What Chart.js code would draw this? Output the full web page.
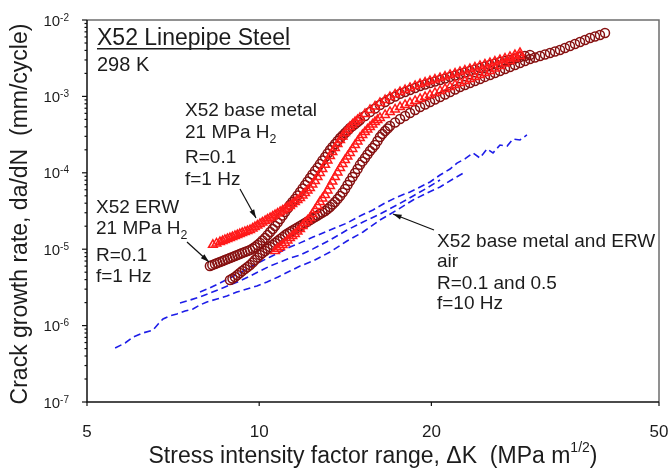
<!DOCTYPE html>
<html>
<head>
<meta charset="utf-8">
<script src="https://cdn.jsdelivr.net/npm/chart.js@4.4.0/dist/chart.umd.min.js"></script>
<style>
html, body { margin: 0; padding: 0; background: #fff; }
</style>
</head>
<body>
<canvas id="myChart" width="670" height="468"></canvas>
<script>
// axis ticks
const xTicks = [5, 10, 20, 50];
const yTicks = [1e-7, 1e-6, 1e-5, 1e-4, 1e-3, 1e-2];

// base metal, 21 MPa H2 (triangles)
const baseK1 = [8.30,8.42,8.54,8.63,8.71,8.80,8.89,8.98,9.07,9.16,9.25,9.34,9.44,9.54,9.64,9.74,9.83,9.93,10.03,10.13,10.24,10.34,10.45,10.56,10.66,10.77,10.88,10.99,11.10,11.21,11.32,11.43,11.55,11.67,11.79,11.91,12.03,12.15,12.27,12.39,12.52,12.65,12.77,12.90,13.04,13.17,13.30,13.43,13.57,13.71,13.85,13.99,14.13,14.27,14.41,14.56,14.71,14.86,15.00,15.31,15.62,15.94,16.26,16.60,16.93,17.28,17.63,17.99,18.35,18.73,19.11,19.50,19.89,20.29,20.71,21.13,21.56,22.00,22.44,22.89,23.36,23.83,24.32,24.81,25.32,25.83,26.36,26.90,27.44,28.00,28.57];
const baseRate1 = [1.14e-5,1.19e-5,1.24e-5,1.28e-5,1.32e-5,1.36e-5,1.40e-5,1.44e-5,1.49e-5,1.53e-5,1.58e-5,1.63e-5,1.68e-5,1.73e-5,1.78e-5,1.87e-5,1.95e-5,2.04e-5,2.14e-5,2.24e-5,2.34e-5,2.45e-5,2.56e-5,2.68e-5,2.80e-5,2.93e-5,3.07e-5,3.21e-5,3.36e-5,3.51e-5,3.68e-5,3.90e-5,4.15e-5,4.41e-5,4.68e-5,5.05e-5,5.44e-5,5.87e-5,6.32e-5,7.03e-5,7.81e-5,8.81e-5,9.94e-5,1.12e-4,1.27e-4,1.45e-4,1.66e-4,1.87e-4,2.11e-4,2.38e-4,2.69e-4,2.99e-4,3.32e-4,3.63e-4,3.98e-4,4.29e-4,4.62e-4,4.91e-4,5.22e-4,5.89e-4,6.64e-4,7.38e-4,8.20e-4,8.97e-4,9.82e-4,1.06e-3,1.14e-3,1.21e-3,1.29e-3,1.37e-3,1.45e-3,1.52e-3,1.59e-3,1.66e-3,1.74e-3,1.82e-3,1.91e-3,1.99e-3,2.09e-3,2.18e-3,2.28e-3,2.39e-3,2.50e-3,2.62e-3,2.73e-3,2.86e-3,2.99e-3,3.13e-3,3.28e-3,3.48e-3,3.70e-3];
const baseK2 = [10.66,10.77,10.88,10.99,11.10,11.21,11.32,11.43,11.55,11.67,11.79,11.91,12.03,12.15,12.27,12.39,12.52,12.65,12.77,12.90,13.04,13.17,13.30,13.43,13.57,13.71,13.85,13.99,14.13,14.27,14.41,14.56,14.71,14.86,15.00,15.15,15.31,15.46,15.62,15.78,15.94,16.10,16.26,16.60,16.93,17.28,17.63,17.99,18.35,18.73,19.11,19.50,19.89,20.29,20.71,21.13,21.56,22.00,22.44,22.89,23.36,23.83,24.32,24.81,25.32,25.83,26.36,26.90,27.44,28.00,28.57];
const baseRate2 = [9.47e-6,1.01e-5,1.07e-5,1.135e-5,1.21e-5,1.30e-5,1.40e-5,1.49e-5,1.58e-5,1.70e-5,1.84e-5,2.01e-5,2.20e-5,2.37e-5,2.56e-5,2.89e-5,3.26e-5,3.68e-5,4.15e-5,4.61e-5,5.12e-5,5.87e-5,6.72e-5,7.69e-5,8.81e-5,1.01e-4,1.16e-4,1.30e-4,1.47e-4,1.63e-4,1.82e-4,2.05e-4,2.31e-4,2.57e-4,2.85e-4,3.13e-4,3.42e-4,3.69e-4,3.98e-4,4.29e-4,4.62e-4,4.91e-4,5.22e-4,5.71e-4,6.25e-4,6.74e-4,7.26e-4,7.72e-4,8.20e-4,8.71e-4,9.25e-4,9.82e-4,1.04e-3,1.11e-3,1.18e-3,1.25e-3,1.33e-3,1.41e-3,1.50e-3,1.59e-3,1.69e-3,1.80e-3,1.91e-3,2.02e-3,2.15e-3,2.32e-3,2.50e-3,2.70e-3,2.91e-3,3.13e-3,3.38e-3];

// ERW, 21 MPa H2 (circles)
const erwK1 = [8.20,8.28,8.37,8.45,8.54,8.63,8.71,8.80,8.89,8.98,9.07,9.16,9.25,9.34,9.44,9.54,9.64,9.74,9.83,9.93,10.03,10.13,10.24,10.34,10.45,10.56,10.66,10.77,10.88,10.99,11.10,11.21,11.32,11.43,11.55,11.67,11.79,11.91,12.03,12.15,12.27,12.39,12.52,12.65,12.77,12.90,13.04,13.17,13.30,13.43,13.57,13.71,13.85,13.99,14.13,14.27,14.41,14.56,14.71,14.86,15.00,15.31,15.62,15.94,16.26,16.60,16.93,17.28,17.63,17.99,18.35,18.73,19.11,19.50,19.89,20.29,20.71,21.13,21.56,22.00,22.44,22.89,23.36,23.83,24.32,24.81,25.32,25.83,26.36,26.90,27.44,28.00,28.57,29.15,29.74];
const erwRate1 = [6.03e-6,6.21e-6,6.40e-6,6.60e-6,6.80e-6,7.01e-6,7.22e-6,7.44e-6,7.67e-6,7.90e-6,8.15e-6,8.39e-6,8.65e-6,8.92e-6,9.19e-6,9.47e-6,9.77e-6,1.02e-5,1.07e-5,1.135e-5,1.21e-5,1.30e-5,1.40e-5,1.53e-5,1.68e-5,1.84e-5,2.01e-5,2.24e-5,2.48e-5,2.76e-5,3.07e-5,3.41e-5,3.79e-5,4.15e-5,4.54e-5,5.05e-5,5.61e-5,6.23e-5,6.92e-5,7.69e-5,8.55e-5,9.50e-5,1.06e-4,1.17e-4,1.30e-4,1.45e-4,1.61e-4,1.79e-4,1.99e-4,2.18e-4,2.38e-4,2.61e-4,2.85e-4,3.08e-4,3.32e-4,3.58e-4,3.86e-4,4.10e-4,4.35e-4,4.62e-4,4.91e-4,5.54e-4,6.25e-4,6.94e-4,7.72e-4,8.45e-4,9.25e-4,9.97e-4,1.08e-3,1.14e-3,1.21e-3,1.29e-3,1.37e-3,1.43e-3,1.50e-3,1.57e-3,1.64e-3,1.71e-3,1.80e-3,1.88e-3,1.96e-3,2.06e-3,2.15e-3,2.25e-3,2.35e-3,2.46e-3,2.58e-3,2.70e-3,2.82e-3,2.91e-3,2.99e-3,3.13e-3,3.28e-3,3.38e-3,3.48e-3];
const erwK2 = [8.89,8.98,9.07,9.16,9.25,9.34,9.44,9.54,9.64,9.74,9.83,9.93,10.03,10.13,10.24,10.34,10.45,10.56,10.66,10.77,10.88,10.99,11.10,11.21,11.32,11.43,11.55,11.67,11.79,11.91,12.03,12.15,12.27,12.39,12.52,12.65,12.77,12.90,13.04,13.17,13.30,13.43,13.57,13.71,13.85,13.99,14.13,14.27,14.41,14.56,14.71,14.86,15.00,15.15,15.31,15.46,15.62,15.78,15.94,16.10,16.26,16.42,16.60,16.77,16.93,17.28,17.63,17.99,18.35,18.73,19.11,19.50,19.89,20.29,20.71,21.13,21.56,22.00,22.44,22.89,23.36,23.83,24.32,24.81,25.32,25.83,26.36,26.90,27.44,28.00,28.57,29.15,29.74,30.35,30.97,31.60,32.24,32.90,33.56,34.24,34.94,35.65,36.38,37.12,37.87,38.64,39.42,40.23];
const erwRate2 = [3.95e-6,4.14e-6,4.33e-6,4.60e-6,4.88e-6,5.18e-6,5.50e-6,5.85e-6,6.21e-6,6.70e-6,7.22e-6,7.79e-6,8.39e-6,8.92e-6,9.47e-6,1.01e-5,1.07e-5,1.135e-5,1.21e-5,1.28e-5,1.36e-5,1.44e-5,1.53e-5,1.605e-5,1.68e-5,1.76e-5,1.84e-5,1.92e-5,2.01e-5,2.10e-5,2.20e-5,2.30e-5,2.41e-5,2.52e-5,2.64e-5,2.76e-5,2.89e-5,3.02e-5,3.16e-5,3.36e-5,3.57e-5,3.85e-5,4.15e-5,4.54e-5,4.97e-5,5.52e-5,6.14e-5,6.92e-5,7.81e-5,8.81e-5,9.94e-5,1.12e-4,1.27e-4,1.41e-4,1.56e-4,1.74e-4,1.93e-4,2.11e-4,2.31e-4,2.61e-4,2.94e-4,3.22e-4,3.52e-4,3.80e-4,4.10e-4,4.55e-4,5.06e-4,5.54e-4,6.07e-4,6.64e-4,7.26e-4,7.83e-4,8.45e-4,9.11e-4,9.82e-4,1.06e-3,1.14e-3,1.23e-3,1.33e-3,1.41e-3,1.50e-3,1.59e-3,1.69e-3,1.80e-3,1.91e-3,2.02e-3,2.15e-3,2.28e-3,2.43e-3,2.58e-3,2.73e-3,2.91e-3,3.09e-3,3.23e-3,3.38e-3,3.54e-3,3.70e-3,3.87e-3,4.05e-3,4.30e-3,4.57e-3,4.85e-3,5.15e-3,5.47e-3,5.81e-3,6.08e-3,6.36e-3,6.76e-3];

// base metal and ERW in air (dashed)
const airK1 = [5.60,5.83,6.02,6.26,6.52,6.66,6.79,6.98,7.18,7.42,7.66,7.88,8.10,8.44,8.78,9.14,9.52,9.91,10.32,10.79,11.32,11.79,12.42,13.30,14.24,15.19,16.26,17.42,18.58,19.65,20.71,21.82,22.89];
const airRate1 = [5.09e-7,5.92e-7,7.09e-7,8.00e-7,8.75e-7,1.05e-6,1.22e-6,1.34e-6,1.42e-6,1.55e-6,1.65e-6,1.86e-6,2.04e-6,2.23e-6,2.44e-6,2.75e-6,3.01e-6,3.30e-6,3.72e-6,4.33e-6,5.18e-6,6.03e-6,7.01e-6,9.19e-6,1.28e-5,1.68e-5,2.41e-5,3.26e-5,4.41e-5,5.44e-5,6.52e-5,8.30e-5,1.02e-4];
const airK2 = [7.88,8.20,8.54,8.89,9.25,9.64,10.03,10.45,10.88,11.32,11.79,12.42,13.30,14.24,15.00,15.81,16.60,17.42,18.35,19.11,19.89,20.71,21.56,22.17,22.89,23.64,24.32,25.02,25.63,26.36,27.13,27.77,28.57,29.38];
const airRate2 = [2.75e-6,3.11e-6,3.61e-6,4.20e-6,4.88e-6,5.85e-6,6.80e-6,7.90e-6,9.19e-6,1.07e-5,1.21e-5,1.44e-5,1.78e-5,2.20e-5,2.72e-5,3.26e-5,4.03e-5,4.82e-5,5.61e-5,6.52e-5,7.58e-5,9.36e-5,1.12e-4,1.34e-4,1.52e-4,1.82e-4,1.56e-4,2.05e-4,1.82e-4,2.31e-4,2.24e-4,2.77e-4,2.69e-4,3.13e-4];
const airK3 = [7.27,7.57,7.88,8.20,8.54,8.89,9.25,9.64,10.03,10.45,10.88,11.32,11.79,12.42,13.30,14.24,15.19,16.26,17.42,18.58,19.65,20.71];
const airRate3 = [1.98e-6,2.16e-6,2.37e-6,2.67e-6,3.01e-6,3.40e-6,3.84e-6,4.46e-6,5.18e-6,6.03e-6,6.80e-6,7.67e-6,8.39e-6,1.01e-5,1.32e-5,1.78e-5,2.27e-5,2.89e-5,3.79e-5,4.97e-5,6.32e-5,8.05e-5];

const FONT = '"Liberation Sans", Arial, sans-serif';
const TXT = '#1c1c1c';
const RED = '#ff1a1a';
const DARKRED = '#861010';
const BLUE = '#1d1de8';

function pts(ks, rs) {
  return ks.map((k, i) => ({ x: k, y: rs[i] }));
}

function markers(ks, rs, style, color, r) {
  return {
    data: pts(ks, rs),
    showLine: false,
    pointStyle: style,
    pointRadius: r,
    pointBorderWidth: 1.5,
    pointBorderColor: color,
    pointBackgroundColor: 'rgba(0,0,0,0)',
  };
}

function dashed(ks, rs) {
  return {
    data: pts(ks, rs),
    showLine: true,
    pointRadius: 0,
    borderColor: BLUE,
    borderWidth: 1.6,
    borderDash: [7, 4],
    tension: 0,
  };
}

// text helpers
function put(ctx, s, x, y, size, align) {
  ctx.font = size + 'px ' + FONT;
  ctx.textAlign = align || 'left';
  ctx.textBaseline = 'alphabetic';
  ctx.fillText(s, x, y);
  return ctx.measureText(s).width;
}

function withSub(ctx, s, sub, x, y, size) {
  let w = put(ctx, s, x, y, size);
  put(ctx, sub, x + w, y + 5, size * 0.65);
}

function arrow(ctx, x0, y0, x1, y1) {
  ctx.save();
  ctx.strokeStyle = '#111';
  ctx.fillStyle = '#111';
  ctx.lineWidth = 1.2;
  ctx.beginPath();
  ctx.moveTo(x0, y0);
  ctx.lineTo(x1, y1);
  ctx.stroke();
  let a = Math.atan2(y1 - y0, x1 - x0);
  ctx.beginPath();
  ctx.moveTo(x1, y1);
  ctx.lineTo(x1 - 9 * Math.cos(a - 0.3), y1 - 9 * Math.sin(a - 0.3));
  ctx.lineTo(x1 - 9 * Math.cos(a + 0.3), y1 - 9 * Math.sin(a + 0.3));
  ctx.closePath();
  ctx.fill();
  ctx.restore();
}

const decor = {
  id: 'decor',
  afterDraw(chart) {
    const ctx = chart.ctx;
    const a = chart.chartArea;
    const xs = chart.scales.x, ys = chart.scales.y;
    ctx.save();

    // frame
    ctx.lineWidth = 1.5;
    ctx.strokeStyle = '#6e6e6e';
    ctx.beginPath();
    ctx.moveTo(a.left, a.top);
    ctx.lineTo(a.right, a.top);
    ctx.lineTo(a.right, a.bottom);
    ctx.stroke();
    ctx.strokeStyle = '#111';
    ctx.beginPath();
    ctx.moveTo(a.left, a.top);
    ctx.lineTo(a.left, a.bottom);
    ctx.lineTo(a.right, a.bottom);
    ctx.stroke();

    // y ticks, major and minor
    ctx.lineWidth = 1.2;
    yTicks.forEach((v, i) => {
      let py = ys.getPixelForValue(v);
      ctx.beginPath();
      ctx.moveTo(a.left - 5, py);
      ctx.lineTo(a.left, py);
      ctx.stroke();
      if (i < yTicks.length - 1) {
        for (let m = 2; m <= 9; m++) {
          let pm = ys.getPixelForValue(v * m);
          ctx.beginPath();
          ctx.moveTo(a.left - 2.5, pm);
          ctx.lineTo(a.left, pm);
          ctx.stroke();
        }
      }
      ctx.fillStyle = TXT;
      let ex = String(Math.round(Math.log10(v)));
      ctx.font = '10px ' + FONT;
      let ew = ctx.measureText(ex).width;
      put(ctx, ex, 69 - ew, py + 0.5, 10);
      put(ctx, '10', 69 - ew, py + 5.5, 15, 'right');
    });

    // x ticks
    xTicks.forEach(v => {
      let px = xs.getPixelForValue(v);
      ctx.beginPath();
      ctx.moveTo(px, a.bottom);
      ctx.lineTo(px, a.bottom + 4);
      ctx.stroke();
      ctx.fillStyle = TXT;
      put(ctx, String(v), px, a.bottom + 35, 17, 'center');
    });

    ctx.fillStyle = TXT;
    // x title with superscript
    let t1 = 'Stress intensity factor range, \u0394K  (MPa m';
    ctx.font = '23px ' + FONT;
    let w1 = ctx.measureText(t1).width;
    ctx.font = '14px ' + FONT;
    let w2 = ctx.measureText('1/2').width;
    ctx.font = '23px ' + FONT;
    let w3 = ctx.measureText(')').width;
    let x0 = 373 - (w1 + w2 + w3) / 2;
    put(ctx, t1, x0, 463, 23);
    put(ctx, '1/2', x0 + w1, 452, 14);
    put(ctx, ')', x0 + w1 + w2, 463, 23);

    // y title
    ctx.save();
    ctx.translate(27, 214);
    ctx.rotate(-Math.PI / 2);
    put(ctx, 'Crack growth rate, da/dN  (mm/cycle)', 0, 0, 23, 'center');
    ctx.restore();

    // header
    let hw = put(ctx, 'X52 Linepipe Steel', 97, 45, 23);
    ctx.fillRect(97, 48, hw, 1.5);
    put(ctx, '298 K', 97, 71, 20);

    // annotations
    put(ctx, 'X52 base metal', 185, 116, 19);
    withSub(ctx, '21 MPa H', '2', 185, 138, 19);
    put(ctx, 'R=0.1', 185, 163, 19);
    put(ctx, 'f=1 Hz', 185, 185, 19);

    put(ctx, 'X52 ERW', 96, 213, 19);
    withSub(ctx, '21 MPa H', '2', 96, 234, 19);
    put(ctx, 'R=0.1', 96, 261, 19);
    put(ctx, 'f=1 Hz', 96, 282, 19);

    put(ctx, 'X52 base metal and ERW', 437, 247, 19);
    put(ctx, 'air', 437, 267, 19);
    put(ctx, 'R=0.1 and 0.5', 437, 289, 19);
    put(ctx, 'f=10 Hz', 437, 309, 19);

    arrow(ctx, 240, 189, 256, 218);
    arrow(ctx, 187, 242, 209, 262);
    arrow(ctx, 434, 230, 393, 214);

    ctx.restore();
  }
};

new Chart(document.getElementById('myChart'), {
  type: 'scatter',
  data: {
    datasets: [
      markers(baseK1, baseRate1, 'triangle', RED, 5),
      markers(baseK2, baseRate2, 'triangle', RED, 5),
      markers(erwK1, erwRate1, 'circle', DARKRED, 4.5),
      markers(erwK2, erwRate2, 'circle', DARKRED, 4.5),
      dashed(airK1, airRate1),
      dashed(airK2, airRate2),
      dashed(airK3, airRate3),
    ],
  },
  options: {
    responsive: false,
    animation: false,
    layout: { padding: { left: 0, right: 11, top: 20, bottom: 0 } },
    plugins: { legend: { display: false }, tooltip: { enabled: false } },
    scales: {
      x: {
        type: 'logarithmic',
        min: 5,
        max: 50,
        grid: { display: false },
        border: { display: false },
        ticks: { display: false },
        afterFit: s => { s.height = 66; },
      },
      y: {
        type: 'logarithmic',
        min: 1e-7,
        max: 1e-2,
        grid: { display: false },
        border: { display: false },
        ticks: { display: false },
        afterFit: s => { s.width = 87; },
      },
    },
  },
  plugins: [decor],
});
</script>
</body>
</html>
